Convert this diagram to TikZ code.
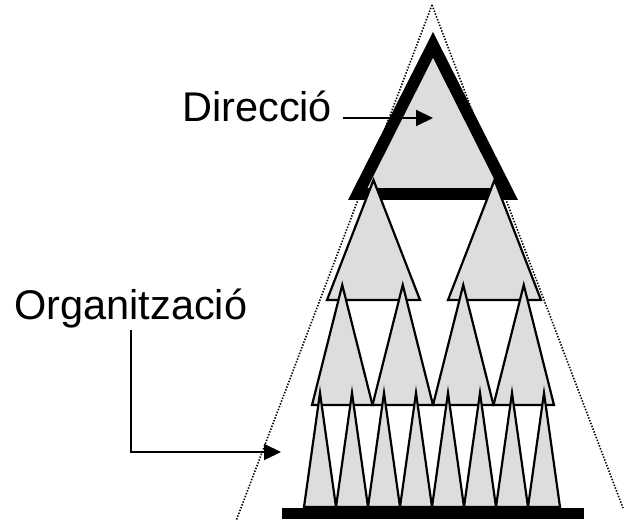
\documentclass[tikz,border=0pt]{standalone}
\usepackage{fontspec}
\setmainfont{Liberation Sans}
\usepackage{tikz}
\usepackage{xcolor}
\usetikzlibrary{positioning, arrows.meta}

\definecolor{trigray}{RGB}{221,221,221}
\tikzset{
  smalltri/.style={draw=black, fill=trigray, line width=2.2pt, line join=miter},
  guide/.style={line width=1.6pt, dash pattern=on 1.4pt off 1.6pt},
  pointer/.style={line width=2pt, -{Triangle[length=17pt,width=16pt]}},
  lbl/.style={inner sep=0pt, font=\fontsize{41.5}{50}\selectfont}
}

\begin{document}
\begin{tikzpicture}[x=1pt,y=-1pt]
\useasboundingbox (0,0) rectangle (624,521);
\draw[guide] (432,5) -- (236,521); %edit here for the cone
\draw[guide] (432,5) -- (623,508);
% top
\fill[black] (433,32) -- (518,200) -- (348,200) -- cycle;
\fill[trigray] (433,58) -- (498.5,188) -- (367.5,188) -- cycle;
% rows
\foreach \c in {373.5,494.5}
  \draw[smalltri] ({\c-46.5},300) -- (\c,180) -- ({\c+46.5},300) -- cycle;
\foreach \k in {0,...,3}
  \draw[smalltri] ({312+60.5*\k},405) -- ({342.25+60.5*\k},285) -- ({372.5+60.5*\k},405) -- cycle;
\foreach \k in {0,...,7}
  \draw[smalltri] ({304+32*\k},507) -- ({320+32*\k},393) -- ({336+32*\k},507) -- cycle;
\fill[black] (282,508) rectangle (584,519);
% labels
\node[lbl, anchor=base west] (dir) at (182,122) {Direcció};
\node[lbl, anchor=base west] (org) at (14,320) {Organització};
\coordinate (dirtip) at (433,118);
\coordinate (orgtip) at (281,452);
\draw[pointer] ([shift={(11,-4)}]dir.base east) -- (dirtip);
\draw[pointer] ([yshift=-1pt]org.south) |- (orgtip);
\end{tikzpicture}
\end{document}
